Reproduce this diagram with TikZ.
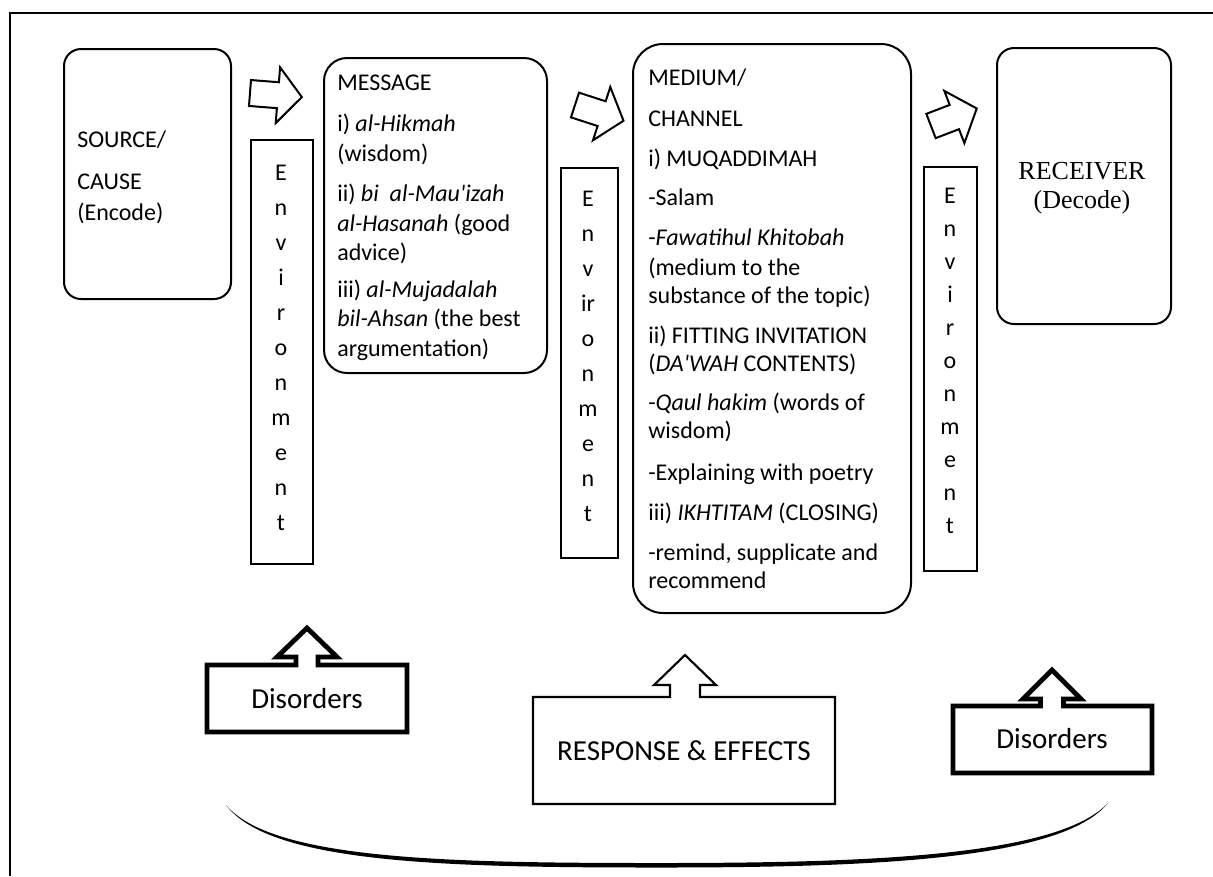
\documentclass[tikz,border=0pt]{standalone}
\usepackage{fontspec}
\setmainfont{Carlito}
\newfontfamily\timesfont{Liberation Serif}
\begin{document}
\begin{tikzpicture}[x=0.75pt,y=-0.75pt,
  line join=miter,
  body/.style={inner sep=0pt, anchor=base west, font=\fontsize{18}{21}\selectfont},
  envl/.style={inner sep=0pt, anchor=base, font=\fontsize{18}{21}\selectfont},
  bigt/.style={inner sep=0pt, anchor=base, font=\fontsize{21.75}{26}\selectfont},
  rbox/.style={draw, line width=1.5pt, rectangle, inner sep=0pt, anchor=north west},
  envbox/.style={draw, line width=1.5pt, rectangle, inner sep=0pt, anchor=north west},
  blockarrow/.style={draw, line width=1.5pt, fill=white},
  thickout/.style={draw, line width=3.6pt},
  thinout/.style={draw, line width=1.6pt}
]
\def\u{0.75pt}
\useasboundingbox (0,0) rectangle (1213,876);
\fill[white] (0,0) rectangle (1213,876);

% frame
\coordinate (frTR) at (1213,13);
\coordinate (frTL) at (10,13);
\coordinate (frBL) at (10,876);
\draw[line width=1.6pt] (frTR) -- (frTL) -- (frBL);

% main boxes
\node[rbox, rounded corners=17*\u, minimum width=167*\u, minimum height=250*\u] (src) at (63,48) {};
\node[rbox, rounded corners=23*\u, minimum width=223*\u, minimum height=315*\u] (msg) at (323,57) {};
\node[rbox, rounded corners=30*\u, minimum width=278*\u, minimum height=569*\u] (med) at (632,43) {};
\node[rbox, rounded corners=17*\u, minimum width=174*\u, minimum height=276*\u] (rcv) at (996,47) {};

% environment boxes
\node[envbox, minimum width=62*\u, minimum height=424*\u] (env1) at (250,139) {};
\node[envbox, minimum width=57*\u, minimum height=390*\u] (env2) at (560,167) {};
\node[envbox, minimum width=53*\u, minimum height=404*\u] (env3) at (923,166) {};

% block arrows
\draw[blockarrow, shift={(250,93)}, rotate=-4.5]
  (0,-13) -- (28,-13) -- (28,-28) -- (52,0) -- (28,28) -- (28,13) -- (0,13) -- cycle;
\draw[blockarrow, shift={(575,105)}, rotate=-18]
  (0,-13) -- (28,-13) -- (28,-28) -- (51,0) -- (28,28) -- (28,13) -- (0,13) -- cycle;
\draw[blockarrow, shift={(931,126)}, rotate=21]
  (0,-13) -- (25,-13) -- (25,-28) -- (49,0) -- (25,28) -- (25,13) -- (0,13) -- cycle;

% source text
\node[body] (s1) at (77,147) {SOURCE/};
\node[body] (s2) at (77,189) {CAUSE};
\node[body] (s3) at (77,220) {(Encode)};

% message text
\node[body] (m1) at (337,90) {MESSAGE};
\node[body] (m2) at (337,131) {i) \textit{al-Hikmah}};
\node[body] (m3) at (337,161) {(wisdom)};
\node[body] (m4) at (337,201) {ii) \textit{bi\ \ al-Mau\textquotesingle izah}};
\node[body] (m5) at (337,231) {\textit{al-Hasanah} (good};
\node[body] (m6) at (337,260) {advice)};
\node[body] (m7) at (337,297) {iii) \textit{al-Mujadalah}};
\node[body] (m8) at (337,326) {\textit{bil-Ahsan} (the best};
\node[body] (m9) at (337,356) {argumentation)};

% medium text
\node[body] (d1) at (648,85) {MEDIUM/};
\node[body] (d2) at (648,126) {CHANNEL};
\node[body] (d3) at (648,166) {i) MUQADDIMAH};
\node[body] (d4) at (648,205) {-Salam};
\node[body] (d5) at (648,245) {-\textit{Fawatihul Khitobah}};
\node[body] (d6) at (648,275) {(medium to the};
\node[body] (d7) at (648,303) {substance of the topic)};
\node[body] (d8) at (648,343) {ii) FITTING INVITATION};
\node[body] (d9) at (648,371) {(\textit{DA\textquotesingle WAH} CONTENTS)};
\node[body] (d10) at (648,410) {-\textit{Qaul hakim} (words of};
\node[body] (d11) at (648,438) {wisdom)};
\node[body] (d12) at (648,480) {-Explaining with poetry};
\node[body] (d13) at (648,520) {iii) \textit{IKHTITAM} (CLOSING)};
\node[body] (d14) at (648,560) {-remind, supplicate and};
\node[body] (d15) at (648,588) {recommend};

% receiver text
\node[inner sep=0pt, anchor=base, font=\timesfont\fontsize{19.5}{22}\selectfont] (r1) at (1082,179) {RECEIVER};
\node[inner sep=0pt, anchor=base, font=\timesfont\fontsize{19.5}{22}\selectfont] (r2) at (1082,208) {(Decode)};

% environment letters
\foreach \l [count=\k from 0] in {E,n,v,i,r,o,n,m,e,n,t}
  \node[envl] (ea\k) at (281,180+35*\k) {\l};
\foreach \l [count=\k from 0] in {E,n,v,ir,o,n,m,e,n,t}
  \node[envl] (eb\k) at (588,206+35*\k) {\l};
\foreach \l [count=\k from 0] in {E,n,v,i,r,o,n,m,e,n,t}
  \node[envl] (ec\k) at (950,203+33*\k) {\l};

% disorders (left)
\draw[thickout] (207,732) -- (207,665) -- (296,665) -- (296,657) -- (277,657) -- (307,628)
  -- (337,657) -- (318,657) -- (318,665) -- (407,665) -- (407,732) -- cycle;
\node[bigt] (dis1) at (307,708) {Disorders};

% response & effects
\draw[thinout] (533,804) -- (533,697) -- (670,697) -- (670,685) -- (654,685) -- (685,655)
  -- (716,685) -- (700,685) -- (700,697) -- (835,697) -- (835,804) -- cycle;
\node[bigt] (resp) at (684,760) {RESPONSE \& EFFECTS};

% disorders (right)
\draw[thickout] (953,773) -- (953,706) -- (1040.5,706) -- (1040.5,699) -- (1023,699) -- (1052,670)
  -- (1081,699) -- (1063.5,699) -- (1063.5,706) -- (1152,706) -- (1152,773) -- cycle;
\node[bigt] (dis2) at (1052,748) {Disorders};

% bottom curve (tapered)
\fill (226,805) .. controls (272,860) and (450,863) .. (660,863)
  .. controls (870,863) and (1058,856) .. (1108,803)
  .. controls (1062,860) and (870,867.5) .. (660,867.5)
  .. controls (450,867.5) and (270,864) .. (226,805) -- cycle;
\end{tikzpicture}
\end{document}
